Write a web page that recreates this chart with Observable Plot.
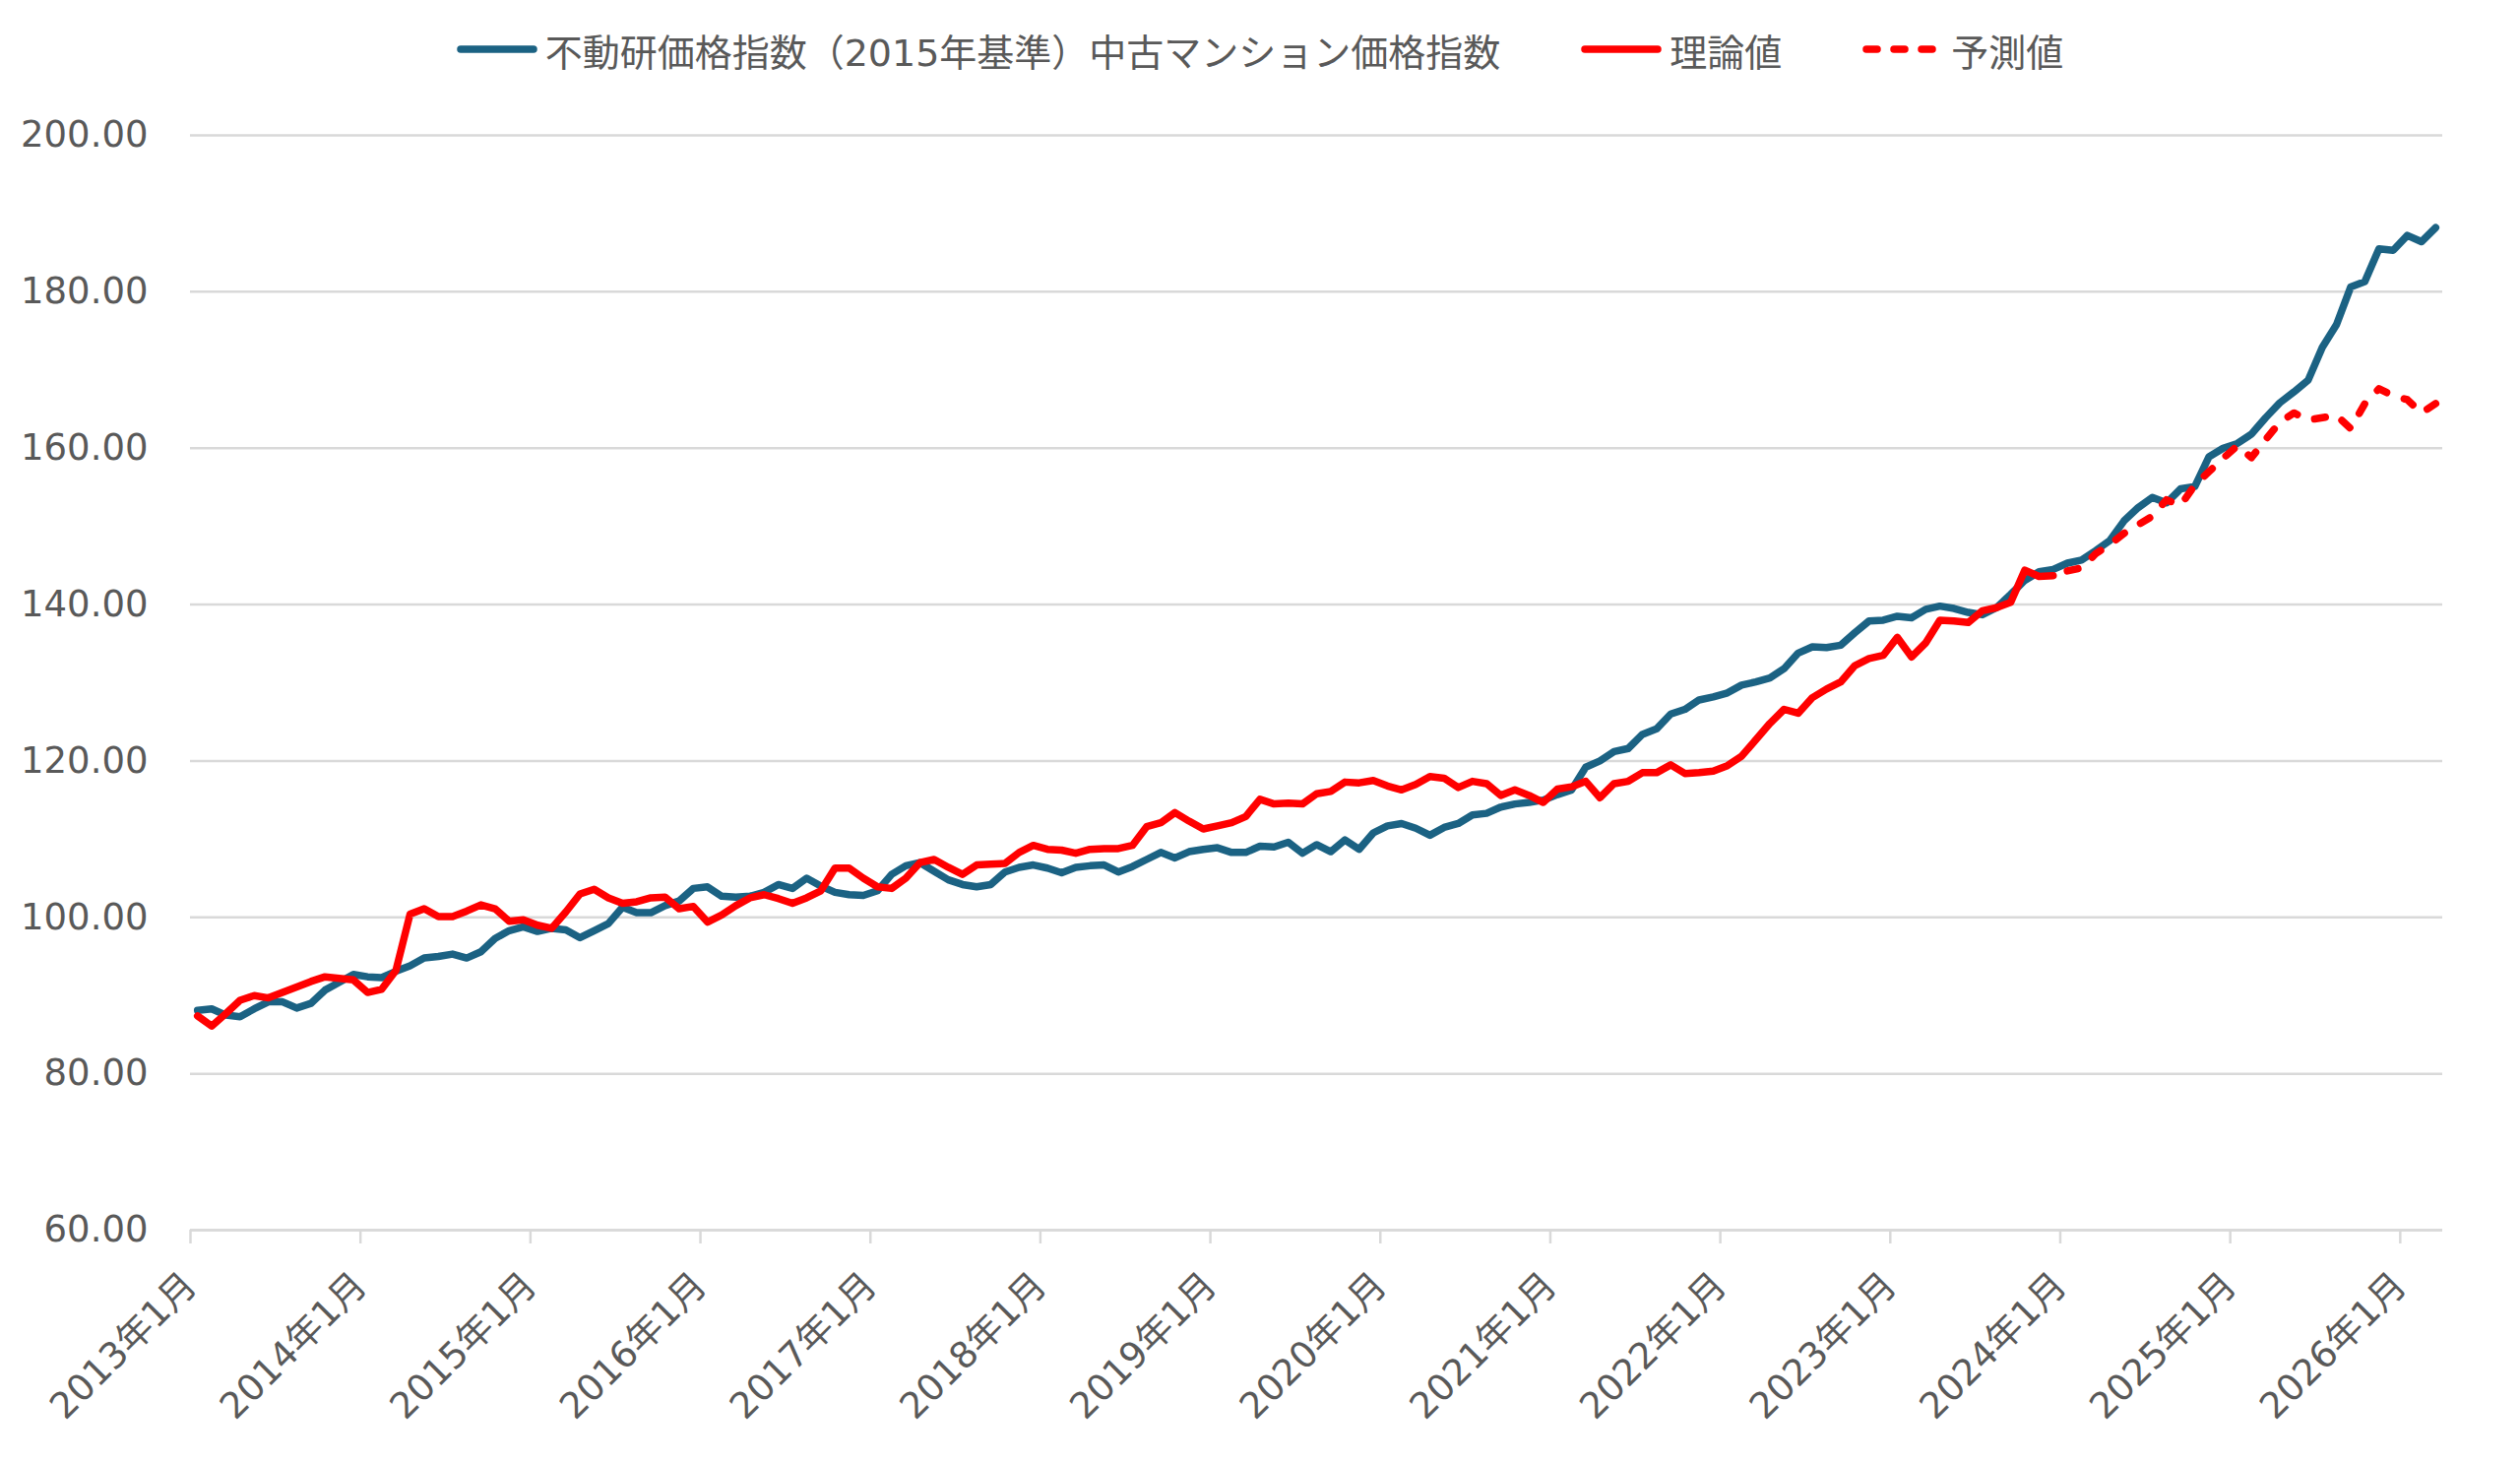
<!DOCTYPE html>
<html>
<head>
<meta charset="utf-8">
<script src="https://cdn.jsdelivr.net/npm/d3@7"></script>
<script src="https://cdn.jsdelivr.net/npm/@observablehq/plot@0.6"></script>
<style>
  html, body { margin: 0; padding: 0; background: #fff; }
  body { width: 2560px; height: 1486px; overflow: hidden; font-family: "DejaVu Sans", "Noto Sans CJK JP", sans-serif; }
  #legend { height: 106px; display: flex; align-items: center; justify-content: center; font-size: 38px; color: #595959; padding-left: 0px; padding-bottom: 6px; box-sizing: border-box; }
  .item { display: flex; align-items: center; margin: 0 41px; }
  .item svg { margin-right: 8px; }
</style>
</head>
<body>
<div id="legend"></div>
<div id="chart"></div>
<script>
// ---- data ----
const seriesNames = ["不動研価格指数（2015年基準）中古マンション価格指数", "理論値", "予測値"];
const tickLabels = ["2013年1月","2014年1月","2015年1月","2016年1月","2017年1月","2018年1月","2019年1月","2020年1月","2021年1月","2022年1月","2023年1月","2024年1月","2025年1月","2026年1月"];
const yTicks = [60, 80, 100, 120, 140, 160, 180, 200];
// monthly from 2013年1月 to 2026年3月
const fudoken = [
  88.1, 88.3, 87.5, 87.3, 88.3, 89.2, 89.2, 88.4, 89.0, 90.7, 91.7, 92.7,
  92.4, 92.3, 93.1, 93.8, 94.8, 95.0, 95.3, 94.8, 95.6, 97.3, 98.3, 98.8,
  98.2, 98.6, 98.4, 97.4, 98.3, 99.2, 101.3, 100.6, 100.6, 101.5, 102.1, 103.7,
  103.9, 102.7, 102.6, 102.7, 103.2, 104.2, 103.7, 105.0, 104.0, 103.2, 102.9, 102.8,
  103.4, 105.5, 106.6, 107.0, 105.9, 104.8, 104.2, 103.9, 104.2, 105.8, 106.4, 106.7,
  106.3, 105.7, 106.4, 106.6, 106.7, 105.8, 106.5, 107.4, 108.3, 107.6, 108.4, 108.7,
  108.9, 108.3, 108.3, 109.1, 109.0, 109.6, 108.2, 109.3, 108.4, 109.9, 108.7, 110.8,
  111.7, 112.0, 111.4, 110.5, 111.5, 112.0, 113.1, 113.3, 114.1, 114.5, 114.7, 115.0,
  115.7, 116.3, 119.2, 120.0, 121.2, 121.6, 123.4, 124.1, 126.0, 126.6, 127.8, 128.2,
  128.7, 129.7, 130.1, 130.6, 131.8, 133.8, 134.6, 134.5, 134.8, 136.4, 137.9, 138.0,
  138.5, 138.3, 139.4, 139.8, 139.5, 139.0, 138.7, 139.6, 141.3, 143.1, 144.2, 144.5,
  145.3, 145.7, 146.9, 148.2, 150.7, 152.4, 153.7, 153.0, 154.8, 155.1, 158.9, 160.0,
  160.6, 161.8, 163.9, 165.8, 167.2, 168.7, 172.9, 175.8, 180.6, 181.3, 185.5, 185.3,
  187.2, 186.4, 188.2
];
// 2013年1月 .. 2023年12月
const riron = [
  87.4, 86.1, 87.7, 89.4, 90.0, 89.7, 90.4, 91.1, 91.8, 92.4, 92.2, 92.0,
  90.4, 90.8, 93.2, 100.4, 101.1, 100.1, 100.1, 100.8, 101.6, 101.1, 99.5, 99.7,
  99.0, 98.6, 100.7, 103.0, 103.6, 102.5, 101.8, 102.0, 102.5, 102.6, 101.1, 101.4,
  99.4, 100.3, 101.5, 102.5, 102.9, 102.4, 101.8, 102.5, 103.4, 106.3, 106.3, 105.0,
  103.9, 103.7, 105.0, 107.0, 107.4, 106.4, 105.5, 106.7, 106.8, 106.9, 108.3, 109.2,
  108.7, 108.6, 108.2, 108.7, 108.8, 108.8, 109.2, 111.6, 112.1, 113.4, 112.3, 111.3,
  111.7, 112.1, 112.9, 115.1, 114.5, 114.6, 114.5, 115.8, 116.1, 117.3, 117.2, 117.5,
  116.8, 116.3, 117.0, 118.0, 117.8, 116.6, 117.4, 117.1, 115.6, 116.3, 115.6, 114.7,
  116.4, 116.7, 117.4, 115.3, 117.1, 117.4, 118.5, 118.5, 119.5, 118.4, 118.5, 118.7,
  119.4, 120.6, 122.7, 124.8, 126.6, 126.1, 128.1, 129.2, 130.1, 132.2, 133.1, 133.5,
  135.8, 133.3, 135.1, 138.0, 137.9, 137.7, 139.2, 139.6, 140.3, 144.4, 143.6, 143.7
];
// 2024年1月 .. 2026年3月
const yosoku = [
  144.3, 144.7, 146.5, 147.7, 149.1, 150.2, 151.3, 153.4, 152.7, 155.3, 157.0, 158.7,
  160.3, 158.8, 161.1, 163.3, 164.5, 163.6, 163.9, 164.2, 162.5, 165.7, 167.6, 166.7,
  166.2, 164.5, 165.7
];

// ---- styles ----
const BLUE = "#1B6283", RED = "#FF0000", GRID = "#D9D9D9", TEXT = "#595959";
const LW = 7.5, DASH = "11,19";

// ---- legend (HTML) ----
const legend = document.getElementById("legend");
const swatches = [
  {name: seriesNames[0], color: BLUE, dash: null},
  {name: seriesNames[1], color: RED, dash: null},
  {name: seriesNames[2], color: RED, dash: "11,17"}
];
for (const s of swatches) {
  const it = document.createElement("div");
  it.className = "item";
  it.innerHTML = `<svg width="82" height="20"><line x1="4" x2="78" y1="10" y2="10" stroke="${s.color}" stroke-width="${LW}" stroke-linecap="round" ${s.dash ? `stroke-dasharray="${s.dash}"` : ""}/></svg><span>${s.name}</span>`;
  legend.appendChild(it);
}

// ---- data tables ----
const blueData = fudoken.map((v, i) => ({x: i + 0.5, y: v}));
const redData = riron.map((v, i) => ({x: i + 0.5, y: v}));
const fcData = yosoku.map((v, i) => ({x: riron.length + i + 0.5, y: v}));
const xTicks = tickLabels.map((_, i) => i * 12);

const W = 2560, H = 1486 - 106;
const chart = Plot.plot({
  width: W, height: H,
  marginLeft: 193, marginRight: 79, marginTop: 31, marginBottom: 237,
  style: {fontFamily: '"DejaVu Sans", "Noto Sans CJK JP", sans-serif', fontSize: "37px", color: TEXT, background: "#fff", overflow: "visible"},
  x: {domain: [0, fudoken.length], axis: null},
  y: {domain: [60, 200], axis: null},
  marks: [
    Plot.gridY(yTicks, {stroke: GRID, strokeOpacity: 1, strokeWidth: 2.5}),
    Plot.axisY(yTicks, {tickSize: 0, tickPadding: 43, tickFormat: d => d.toFixed(2), fill: TEXT, label: null}),
    Plot.axisX(xTicks, {anchor: "bottom", tickSize: 14, stroke: GRID, strokeWidth: 2.5, tickRotate: -45, tickPadding: 36,
      tickFormat: d => tickLabels[d / 12], fill: TEXT, label: null}),
    Plot.ruleY([60], {stroke: GRID, strokeWidth: 2.5}),
    Plot.line(blueData, {x: "x", y: "y", stroke: BLUE, strokeWidth: LW, strokeLinejoin: "round", strokeLinecap: "round"}),
    Plot.line(redData, {x: "x", y: "y", stroke: RED, strokeWidth: LW, strokeLinejoin: "round", strokeLinecap: "round"}),
    Plot.line(fcData, {x: "x", y: "y", stroke: RED, strokeWidth: LW, strokeLinejoin: "round", strokeLinecap: "round", strokeDasharray: DASH})
  ]
});
document.getElementById("chart").appendChild(chart);
</script>
</body>
</html>
